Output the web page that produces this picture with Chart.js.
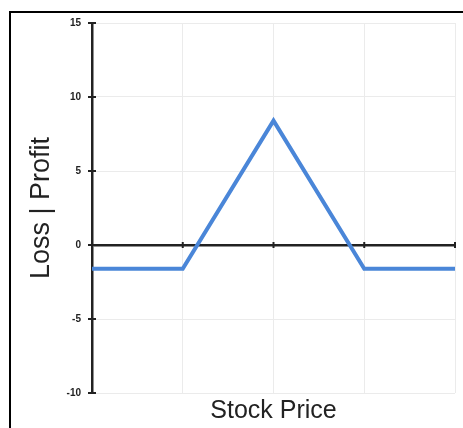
<!DOCTYPE html>
<html>
<head>
<meta charset="utf-8">
<script src="https://cdn.jsdelivr.net/npm/chart.js@4/dist/chart.umd.min.js"></script>
<style>
  html, body { margin: 0; padding: 0; background: #fff; }
  #wrap { position: relative; width: 463px; height: 428px; overflow: hidden; }
  #frame { position: absolute; left: 9px; top: 11px; right: -5px; bottom: -5px;
           border-left: 2px solid #000; border-top: 2px solid #000; }
  canvas { position: absolute; left: 0; top: 0; }
</style>
</head>
<body>
<div id="wrap">
  <div id="frame"></div>
  <canvas id="c" width="463" height="428"></canvas>
</div>
<script>
const stockPrice = [0, 1, 2, 3, 4];
const profitLoss = [-1.6, -1.6, 8.4, -1.6, -1.6];
const yMin = -10, yMax = 15, yStep = 5;
const xTitle = 'Stock Price';
const yTitle = 'Loss | Profit';

const FONT = '"Liberation Sans", Arial, Helvetica, sans-serif';
const AXIS = '#222';
const GRID = '#ebebeb';

const tickCross = {
  id: 'tickCross',
  beforeDatasetsDraw(chart) {
    const {ctx, chartArea, scales: {x, y}} = chart;
    ctx.save();
    ctx.strokeStyle = AXIS;
    ctx.lineWidth = 2;
    y.ticks.forEach(t => {
      const py = y.getPixelForValue(t.value);
      ctx.beginPath();
      ctx.moveTo(chartArea.left - 4, py);
      ctx.lineTo(chartArea.left + 4, py);
      ctx.stroke();
    });
    const y0 = y.getPixelForValue(0);
    x.ticks.forEach(t => {
      const px = x.getPixelForValue(t.value);
      ctx.beginPath();
      ctx.moveTo(px, y0 - 3);
      ctx.lineTo(px, y0 + 3);
      ctx.stroke();
    });
    ctx.restore();
  }
};

new Chart(document.getElementById('c'), {
  type: 'line',
  data: {
    datasets: [{
      data: stockPrice.map((s, i) => ({x: s, y: profitLoss[i]})),
      borderColor: '#4a86d8',
      borderWidth: 4,
      pointRadius: 0,
      fill: false,
      tension: 0
    }]
  },
  options: {
    responsive: false,
    animation: false,
    layout: { padding: { top: 23, right: 8, bottom: 0, left: 0 } },
    plugins: { legend: { display: false }, tooltip: { enabled: false } },
    scales: {
      x: {
        type: 'linear',
        min: stockPrice[0],
        max: stockPrice[stockPrice.length - 1],
        ticks: { display: false, stepSize: 1 },
        grid: { color: GRID, lineWidth: 1, drawTicks: false },
        border: { display: false },
        title: { display: true, text: xTitle, color: AXIS,
                 font: { family: FONT, size: 25 }, padding: { top: 0, bottom: 2 } },
        afterFit(scale) { scale.height = 35; }
      },
      y: {
        min: yMin,
        max: yMax,
        ticks: { stepSize: yStep, color: AXIS, padding: 11,
                 font: { family: FONT, size: 10, weight: 'bold' } },
        grid: {
          drawTicks: false,
          color: c => c.tick && c.tick.value === 0 ? AXIS : GRID,
          lineWidth: c => c.tick && c.tick.value === 0 ? 2.5 : 1
        },
        border: { display: true, color: AXIS, width: 2.5 },
        title: { display: true, text: yTitle, color: AXIS,
                 font: { family: FONT, size: 27 }, padding: { top: 25, bottom: 0 } },
        afterFit(scale) { scale.width = 92; }
      }
    }
  },
  plugins: [tickCross]
});
</script>
</body>
</html>
